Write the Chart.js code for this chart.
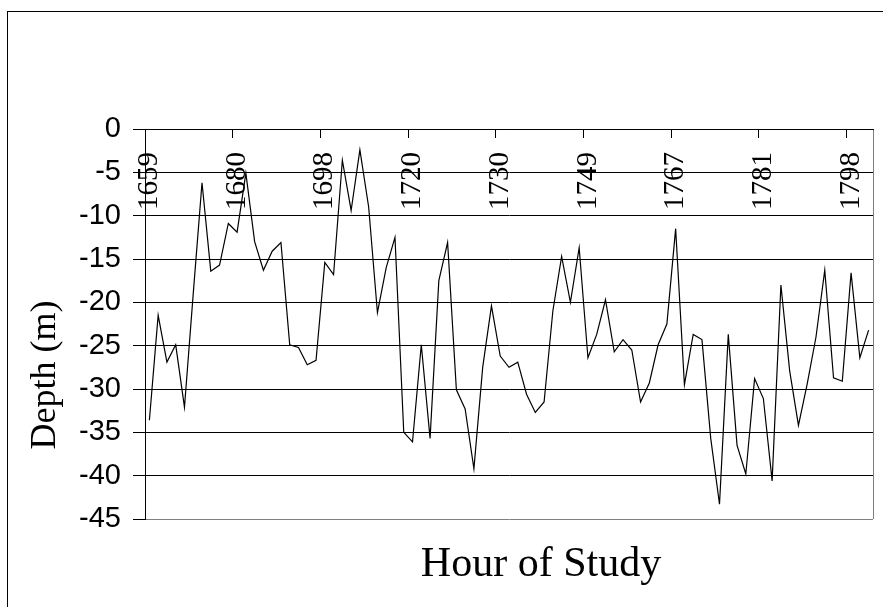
<!DOCTYPE html>
<html>
<head>
<meta charset="utf-8">
<script src="https://cdn.jsdelivr.net/npm/chart.js@4.4.1/dist/chart.umd.min.js"></script>
<style>
  html, body { margin: 0; padding: 0; background: #fff; overflow: hidden; }
  #wrap { position: relative; width: 883px; height: 607px; }
</style>
</head>
<body>
<div id="wrap"><canvas id="chart" width="883" height="607"></canvas></div>
<script>
// hour-of-study tick labels, one every 10 readings
const tickLabels = ["1659", "1680", "1698", "1720", "1730", "1749", "1767", "1781", "1798"];
const labelEvery = 10;

// depth readings (m)
const depth = [
	-33.6, -21.5, -26.9, -24.9, -32.1, -19.0, -6.2, -16.4, -15.7, -10.9,
	-11.9, -5.1, -13.0, -16.3, -14.1, -13.1, -24.9, -25.2, -27.2, -26.7,
	-15.4, -16.8, -3.6, -9.4, -2.4, -9.0, -21.2, -16.0, -12.5, -35.0,
	-36.1, -24.9, -35.7, -17.5, -13.1, -30.1, -32.3, -39.2, -27.5, -20.4,
	-26.2, -27.5, -26.9, -30.6, -32.7, -31.5, -21.0, -14.7, -20.0, -13.7,
	-26.4, -23.7, -19.7, -25.7, -24.3, -25.5, -31.5, -29.3, -24.9, -22.5,
	-11.5, -29.5, -23.7, -24.3, -35.7, -43.3, -23.7, -36.5, -39.8, -28.8,
	-31.1, -40.6, -18.0, -27.9, -34.2, -29.4, -24.0, -16.3, -28.7, -29.1,
	-16.6, -26.4, -23.2,
];
const categories = depth.map((_, i) => i);

const yTitle = "Depth (m)";
const xTitle = "Hour of Study";

// frame + axis titles drawn at the spots Excel put them
const extras = {
	id: "extras",
	beforeDraw(chart) {
		const c = chart.ctx;
		c.save();
		c.strokeStyle = "#000";
		c.lineWidth = 1;
		c.strokeRect(7.5, 11.5, 2000, 2000);
		c.restore();
	},
	afterDraw(chart) {
		const c = chart.ctx;
		c.save();
		c.fillStyle = "#000";
		c.font = '36px "Liberation Serif"';
		c.textAlign = "center";
		c.textBaseline = "middle";
		c.translate(46, 375);
		c.rotate(-Math.PI / 2);
		c.fillText(yTitle, 0, 0);
		c.restore();

		c.save();
		c.fillStyle = "#000";
		c.font = '42px "Liberation Serif"';
		c.textAlign = "center";
		c.textBaseline = "alphabetic";
		c.fillText(xTitle, 541, 576);
		c.restore();
	},
};

const ctx = document.getElementById("chart").getContext("2d");
const chart = new Chart(ctx, {
	type: "line",
	data: {
		labels: categories,
		datasets: [
			{
				label: "Depth",
				data: depth,
				borderColor: "#000",
				borderWidth: 1.2,
				pointRadius: 0,
				tension: 0,
				fill: false,
			},
		],
	},
	plugins: [extras],
	options: {
		responsive: false,
		animation: false,
		layout: {
			padding: { top: 129, bottom: 88, left: 0, right: 10 },
		},
		plugins: {
			legend: { display: false },
			tooltip: { enabled: false },
		},
		scales: {
			x: {
				type: "category",
				position: { y: 0 },
				offset: true,
				afterFit: (s) => {
					s.paddingLeft = 0;
					s.paddingRight = 0;
				},
				grid: {
					offset: true,
					drawOnChartArea: true,
					drawTicks: true,
					tickLength: 8,
					color: (c) => (c.index === undefined ? "#808080" : "rgba(0,0,0,0)"),
					tickColor: (c) => (c.index !== undefined && c.index % labelEvery === 0 ? "#000" : "rgba(0,0,0,0)"),
				},
				border: { display: true, color: "#000", width: 1 },
				ticks: {
					autoSkip: false,
					minRotation: 90,
					maxRotation: 90,
					padding: 15,
					color: "#000",
					font: { family: "Liberation Serif", size: 29 },
					callback: (v, i) => (i % labelEvery === 0 ? tickLabels[i / labelEvery] : ""),
				},
			},
			y: {
				min: -45,
				max: 0,
				afterFit: (s) => {
					s.width = 145;
				},
				grid: {
					color: (c) => (c.tick && c.tick.value === -45 ? "#808080" : "#000"),
					tickColor: "#000",
					tickLength: 12,
				},
				border: { display: true, color: "#000", width: 1 },
				ticks: {
					stepSize: 5,
					padding: 12,
					color: "#000",
					font: { family: "Liberation Sans", size: 29 },
				},
			},
		},
	},
});
</script>
</body>
</html>
